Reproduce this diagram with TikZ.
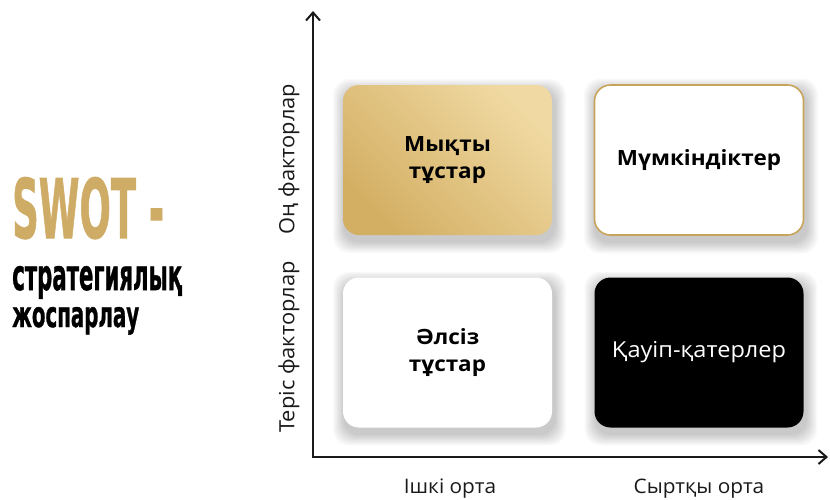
\documentclass[tikz,border=0pt]{standalone}
\usepackage{fontspec}
\setmainfont{Open Sans}
\newfontfamily\boxfont{Open Sans}[FakeStretch=1.07]
\newfontfamily\labelfont{Open Sans}[FakeStretch=1.04]
\newfontfamily\headfont{DejaVu Sans}[FakeBold=1.2]
\usetikzlibrary{arrows.meta,calc,backgrounds}
\definecolor{gold}{HTML}{CFAC66}
\definecolor{golddark}{HTML}{D3AF63}
\definecolor{goldlight}{HTML}{F0D9A2}
\definecolor{goldline}{HTML}{C8A35B}
\definecolor{ink}{HTML}{1A1A1A}
% soft drop shadow built from stacked translucent rounded rectangles
\newcommand\softshadow[1]{%
  \begin{scope}[on background layer]
    \foreach \k in {1,...,9}{
      \fill[black, opacity=0.022, rounded corners=16pt]
        ($(#1.south west)+(2-1.3*\k,6+1.3*\k)$) rectangle ($(#1.north east)+(2+1.3*\k,6-1.3*\k)$);
    }
  \end{scope}}
\begin{document}
\begin{tikzpicture}[x=1pt,y=-1pt,
  quad/.style={rounded corners=16pt, minimum width=209pt, minimum height=150pt,
    inner sep=0pt, align=center, font=\boxfont\fontsize{21}{27}\selectfont\bfseries},
  axislabel/.style={text=ink, inner sep=0pt},
  axis/.style={line width=2pt, draw=ink,
    {Straight Barb[length=8pt,width=14pt]}-{Straight Barb[length=8pt,width=14pt]}},
  title/.style={anchor=base west, inner sep=0pt}
]
\begin{scope}[on background layer]
  \fill[white] (0,0) rectangle (830,499);
\end{scope}
\path[use as bounding box] (0,0) rectangle (830,499);

% heading on the left
\node[title, text=gold] (swot) at (12,238) {\resizebox{152pt}{61pt}{\headfont\bfseries SWOT -}};
\node[title] (plan1) at (12,290) {\resizebox{170pt}{24pt}{\headfont\bfseries стратегиялық}};
\node[title] (plan2) at (12,327) {\resizebox{127pt}{20pt}{\headfont\bfseries жоспарлау}};

% the four quadrants
\node[quad, top color=goldlight, bottom color=golddark, shading angle=-45] (str) at (447.5,160) {Мықты\\тұстар};
\node[quad, fill=white, draw=goldline, line width=1.6pt] (opp) at (699,160) {Мүмкіндіктер};
\node[quad, fill=white] (weak) at (447.5,352.5) {Әлсіз\\тұстар};
\node[quad, fill=black, text=white, font=\boxfont\fontsize{22}{27}\selectfont] (thr) at (699,352.5) {Қауіп-қатерлер};
\softshadow{str}
\softshadow{opp}
\softshadow{weak}
\softshadow{thr}

% axes
\coordinate (orig) at (313,457);
\coordinate (ytop) at (313,11);
\coordinate (xend) at (828,457);
\draw[axis] (ytop) -- (orig) -- (xend);

% axis labels
\node[axislabel, rotate=90, font=\labelfont\fontsize{21}{25}\selectfont] (pos) at (289,159) {Оң факторлар};
\node[axislabel, rotate=90, font=\labelfont\fontsize{21}{25}\selectfont] (neg) at (289,347) {Теріс факторлар};
\node[axislabel, font=\labelfont\fontsize{20}{24}\selectfont] (inner) at (450,489) {Ішкі орта};
\node[axislabel, font=\labelfont\fontsize{20}{24}\selectfont] (outer) at (699,489) {Сыртқы орта};
\end{tikzpicture}
\end{document}
